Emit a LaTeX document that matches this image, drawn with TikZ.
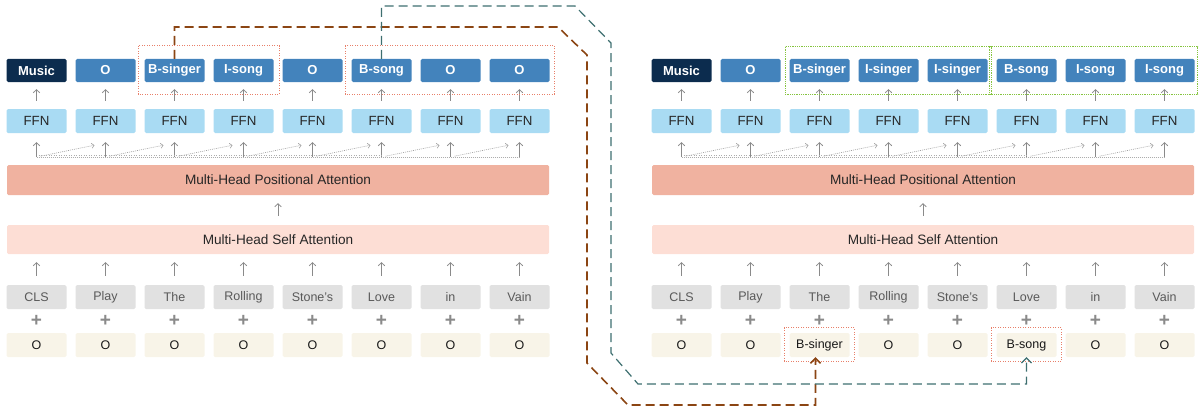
\documentclass[tikz,border=0pt]{standalone}
\usepackage{fontspec}
\setmainfont{Liberation Sans}
\usetikzlibrary{arrows.meta,calc}
\definecolor{navy}{HTML}{0C2C4E}
\definecolor{labblue}{HTML}{4383BC}
\definecolor{ffnblue}{HTML}{A9DBF3}
\definecolor{posbar}{HTML}{F0B2A0}
\definecolor{selfbar}{HTML}{FDDED5}
\definecolor{tokgray}{HTML}{E1E1E1}
\definecolor{cream}{HTML}{F8F4E8}
\definecolor{arrgray}{HTML}{8A8A8A}
\definecolor{brownc}{HTML}{8B4513}
\definecolor{tealc}{HTML}{3E6F70}
\definecolor{reddot}{HTML}{E8806A}
\definecolor{greendot}{HTML}{86C440}
\tikzset{
  boxbase/.style={rounded corners=1.5pt, minimum width=60pt, inner sep=0pt, font=\fontsize{12.5}{14}\selectfont},
  lab/.style={boxbase, minimum height=23pt, fill=labblue, text=white, font=\fontsize{13}{15}\selectfont\bfseries},
  musiclab/.style={lab, fill=navy},
  ffn/.style={boxbase, minimum height=24pt, fill=ffnblue, text=black!85, font=\fontsize{13.3}{15}\selectfont},
  tok/.style={boxbase, minimum height=24pt, fill=tokgray, text=black!65},
  tag/.style={boxbase, minimum height=24pt, fill=cream, text=black!90},
  bar/.style={rounded corners=1.5pt, minimum width=542pt, inner sep=0pt, font=\fontsize{13.6}{15}\selectfont, text=black!85},
  posb/.style={bar, minimum height=30pt, fill=posbar},
  selfb/.style={bar, minimum height=29pt, fill=selfbar},
  plusn/.style={font=\fontsize{19}{19}\selectfont\bfseries, text=arrgray, inner sep=0pt},
  garrow/.style={-{Straight Barb[length=3pt,width=6.5pt]}, draw=arrgray, line width=0.8pt},
  dotarrow/.style={-{Straight Barb[length=2.5pt,width=5pt]}, draw=arrgray!80, line width=0.6pt, dash pattern=on 1pt off 1pt},
  redbox/.style={draw=reddot, line width=0.8pt, dash pattern=on 1pt off 1.5pt},
  greenbox/.style={draw=greendot, line width=1.4pt, dash pattern=on 1pt off 0.8pt},
  brownline/.style={draw=brownc, line width=1.6pt, dash pattern=on 9pt off 5pt, -{Straight Barb[length=5pt,width=10pt]}},
  tealline/.style={draw=tealc, line width=1.2pt, dash pattern=on 9pt off 5pt, -{Straight Barb[length=5pt,width=10pt]}}
}
\begin{document}
\begin{tikzpicture}[x=1pt,y=-1pt]
\useasboundingbox (0,0) rectangle (1199,412);

% common parts of both panels
\foreach \P/\o in {L/0,R/645}{
  \node[posb] (pos\P) at (278+\o,180) {Multi-Head Positional Attention};
  \node[selfb] (self\P) at (278+\o,239.5) {Multi-Head Self Attention};
  \draw[garrow, shorten <=9pt, shorten >=8pt] (self\P.north) -- (pos\P.south);
  \foreach \i/\w in {1/CLS,2/Play,3/The,4/Rolling,5/Stone's,6/Love,7/in,8/Vain}{
    \pgfmathsetmacro\cx{36.5+69*(\i-1)+\o}
    \node[ffn] (f\P\i) at (\cx,121) {FFN};
    \node[tok] (k\P\i) at (\cx,297) {\w};
    \node[plusn] (p\P\i) at (\cx,321) {+};
    \draw[garrow, shorten <=9pt, shorten >=8pt] (k\P\i.north) -- (k\P\i.north |- self\P.south);
    \draw[garrow, shorten <=8pt, shorten >=9pt] (f\P\i.south |- pos\P.north) -- (f\P\i.south);
  }
  \foreach \i [evaluate=\i as \j using int(\i+1)] in {1,...,7}{
    \draw[dotarrow] ($(f\P\i.south)+(4,23)$) -- ($(f\P\j.south)+(-11,12)$);
  }
  \draw[draw=arrgray!70, line width=0.5pt, dash pattern=on 1pt off 1pt] ($(f\P1.south)+(0,24)$) -- ($(f\P8.south)+(0,24)$);
  \draw[draw=arrgray!70, line width=0.5pt, dash pattern=on 1pt off 1.5pt] ($(f\P1.south)+(2,22.5)$) -- ($(f\P6.south)+(0,22.5)$);
}

% left panel top labels and tags
\foreach \i/\t in {1/Music,2/O,3/B-singer,4/I-song,5/O,6/B-song,7/O,8/O}{
  \pgfmathsetmacro\cx{36.5+69*(\i-1)}
  \ifnum\i=1
    \node[musiclab] (tL\i) at (\cx,70.5) {\t};
  \else
    \node[lab] (tL\i) at (\cx,70.5) {\t};
  \fi
  \node[tag] (gL\i) at (\cx,345) {O};
  \draw[garrow, shorten <=8pt, shorten >=7pt] (fL\i.north) -- (tL\i.south);
}
% right panel top labels and tags
\foreach \i/\t/\g in {1/Music/O,2/O/O,3/B-singer/B-singer,4/I-singer/O,5/I-singer/O,6/B-song/B-song,7/I-song/O,8/I-song/O}{
  \pgfmathsetmacro\cx{36.5+69*(\i-1)+645}
  \ifnum\i=1
    \node[musiclab] (tR\i) at (\cx,70.5) {\t};
  \else
    \node[lab] (tR\i) at (\cx,70.5) {\t};
  \fi
  \node[tag] (gR\i) at (\cx,345) {\g};
  \draw[garrow, shorten <=8pt, shorten >=7pt] (fR\i.north) -- (tR\i.south);
}

% highlight boxes
\draw[redbox] ($(tL3.north west)+(-6,-13)$) rectangle ($(tL4.south east)+(6,12)$);
\draw[redbox] ($(tL6.north west)+(-6,-13)$) rectangle ($(tL8.south east)+(5,12)$);
\draw[greenbox] ($(tR3.north west)+(-4,-12)$) rectangle ($(tR5.south east)+(4,12)$);
\draw[greenbox] ($(tR6.north west)+(-7,-12)$) rectangle ($(tR8.south east)+(3,12)$);
\draw[redbox] ($(gR3.north west)+(-5,-5)$) rectangle ($(gR3.south east)+(5,4)$);
\draw[redbox] ($(gR6.north west)+(-5,-5)$) rectangle ($(gR6.south east)+(5,4)$);

% connectors
\coordinate (b1) at (0,27);
\coordinate (b2) at (558,27);
\coordinate (b3) at (587,55);
\coordinate (b4) at (587,363);
\coordinate (b5) at (628,405);
\draw[brownline] (tL3.north) -- (tL3.north |- b1) -- (b2) -- (b3) -- (b4) -- (b5)
  -- ([xshift=-4pt]gR3.south |- b5) -- ([xshift=-4pt]gR3.south);
\coordinate (c1) at (0,6);
\coordinate (c2) at (575,6);
\coordinate (c3) at (611,43);
\coordinate (c4) at (611,353);
\coordinate (c5) at (638,384);
\draw[tealline] (tL6.north) -- (tL6.north |- c1) -- (c2) -- (c3) -- (c4) -- (c5)
  -- (gR6.south |- c5) -- (gR6.south);
\end{tikzpicture}
\end{document}
